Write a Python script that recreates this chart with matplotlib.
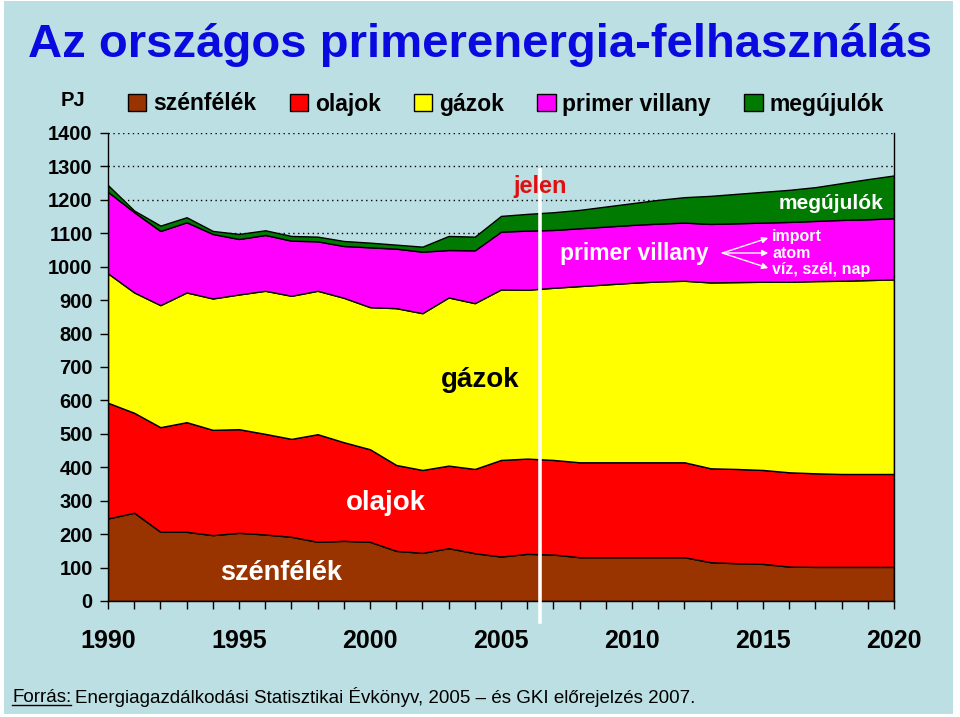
import numpy as np
import matplotlib
matplotlib.use("Agg")
import matplotlib.pyplot as plt
from matplotlib.patches import Rectangle
from matplotlib.lines import Line2D

plt.rcParams['font.family'] = ['Liberation Sans', 'DejaVu Sans']

years = list(range(1990, 2021))

# PJ, leolvasva az ábráról
szen = [247, 264, 207, 207, 197, 204, 199, 192, 177, 180, 177, 150, 144, 158, 143, 133,
        141, 139, 131, 131, 131, 131, 131, 116, 113, 111, 103, 102, 102, 102, 102]
olaj = [346, 299, 313, 328, 315, 310, 301, 293, 322, 295, 277, 257, 248, 247, 252, 289,
        285, 283, 284, 284, 284, 284, 284, 281, 282, 281, 282, 280, 278, 278, 278]
gaz = [387, 360, 365, 388, 393, 403, 428, 428, 429, 432, 425, 469, 469, 503, 496, 510,
       505, 515, 527, 532, 537, 541, 543, 556, 559, 563, 570, 575, 578, 580, 582]
villany = [244, 240, 222, 210, 193, 166, 167, 165, 148, 155, 179, 178, 184, 142, 158, 173,
           177, 173, 173, 173, 173, 173, 174, 175, 176, 177, 179, 180, 182, 182, 183]
megujulo = [20, 5, 16, 15, 9, 15, 14, 14, 14, 15, 14, 12, 15, 42, 41, 47,
            50, 53, 55, 60, 65, 71, 76, 84, 88, 92, 96, 101, 110, 120, 128]

nevek = ['szénfélék', 'olajok', 'gázok', 'primer villany', 'megújulók']
szinek = ['#993300', '#FF0000', '#FFFF00', '#FF00FF', '#007A00']
jelen_ev = 2006.5

bg = '#BCDFE3'
fig = plt.figure(figsize=(9.6, 7.17), dpi=100, facecolor='white')
fig.patches.append(Rectangle((4 / 960, 3 / 717), 949 / 960, 713 / 717,
                             transform=fig.transFigure, facecolor=bg, edgecolor='none', zorder=-10))

ax = fig.add_axes([108 / 960, 116 / 717, 786 / 960, 468 / 717])
ax.patch.set_alpha(0)

polys = ax.stackplot(years, szen, olaj, gaz, villany, megujulo, colors=szinek,
                     edgecolor='black', linewidth=1, labels=nevek, zorder=2)

ax.set_xlim(1990, 2020)
ax.set_ylim(0, 1400)
ax.set_yticks(range(0, 1401, 100))
ax.set_xticks(range(1990, 2021, 5))
ax.set_xticks(years, minor=True)
ax.yaxis.grid(True, linestyle=(0, (1, 2.5)), color='black', linewidth=1)
ax.set_axisbelow(True)

ax.spines['top'].set_visible(False)
for s in ['left', 'right', 'bottom']:
    ax.spines[s].set_color('black')
    ax.spines[s].set_linewidth(1)
ax.spines['right'].set_zorder(3)

ax.tick_params(axis='y', direction='out', length=6, width=1, pad=5)
ax.tick_params(axis='x', which='both', direction='out', length=6, width=1)
ax.tick_params(axis='x', which='major', pad=14)
for lab in ax.get_yticklabels():
    lab.set_fontsize(14.5)
    lab.set_fontweight('bold')
for lab in ax.get_xticklabels():
    lab.set_fontsize(18)
    lab.set_fontweight('bold')

# "jelen" vonal
ax.plot([jelen_ev, jelen_ev], [1290, -63], color='white', linewidth=2.6, clip_on=False, zorder=5)
ax.text(jelen_ev, 1241, 'jelen', color='#E01010', fontsize=17, fontweight='bold',
        ha='center', va='center', zorder=6)

ax.text(2017.6, 1190, 'megújulók', color='white', fontsize=15, fontweight='bold',
        ha='center', va='center', zorder=6)
ax.text(2010.1, 1041, 'primer villany', color='white', fontsize=16.5, fontweight='bold',
        ha='center', va='center', zorder=6)
for y, t in zip([1089, 1041, 993], ['import', 'atom', 'víz, szél, nap']):
    ax.text(2015.35, y, t, color='white', fontsize=11.5, fontweight='bold',
            ha='left', va='center', zorder=6)
    ax.annotate('', xy=(2015.2, y + (y - 1041) * -0.06), xytext=(2013.45, 1041),
                arrowprops=dict(arrowstyle='-|>', color='white', lw=1, mutation_scale=9,
                                shrinkA=0, shrinkB=0), zorder=6)
ax.text(2004.2, 661, 'gázok', color='black', fontsize=20, fontweight='bold',
        ha='center', va='center', zorder=6)
ax.text(2000.6, 293, 'olajok', color='white', fontsize=20, fontweight='bold',
        ha='center', va='center', zorder=6)
ax.text(1996.6, 84, 'szénfélék', color='white', fontsize=19.5, fontweight='bold',
        ha='center', va='center', zorder=6)

# cím
fig.text(480 / 960, 1 - 45 / 717, 'Az országos primerenergia-felhasználás', color='#0A0AE0',
         fontsize=34, fontweight='bold', ha='center', va='center')

fig.text(73 / 960, 1 - 101 / 717, 'PJ', fontsize=14.5, fontweight='bold', ha='center', va='center')
fig.legend(handles=polys, labels=nevek, loc='center left', bbox_to_anchor=(128 / 960, 1 - 104 / 717),
           ncol=5, frameon=False, prop={'size': 16.5, 'weight': 'bold'},
           handlelength=0.8, handleheight=0.8, handletextpad=0.3, columnspacing=1.45,
           borderpad=0, borderaxespad=0)

# forrás
t1 = fig.text(12 / 960, 1 - 697 / 717, 'Forrás:', fontsize=13.5, ha='left', va='center')
fig.canvas.draw()
bb = t1.get_window_extent()
fig.text(bb.x1 / 960 + 4 / 960, 1 - 697 / 717,
         'Energiagazdálkodási Statisztikai Évkönyv, 2005 – és GKI előrejelzés 2007.',
         fontsize=13.5, ha='left', va='center')
fig.add_artist(Line2D([bb.x0 / 960, bb.x1 / 960], [(bb.y0 + 1) / 717, (bb.y0 + 1) / 717],
                      color='black', linewidth=1, transform=fig.transFigure))

fig.savefig('out.png', dpi=100, facecolor='white')
